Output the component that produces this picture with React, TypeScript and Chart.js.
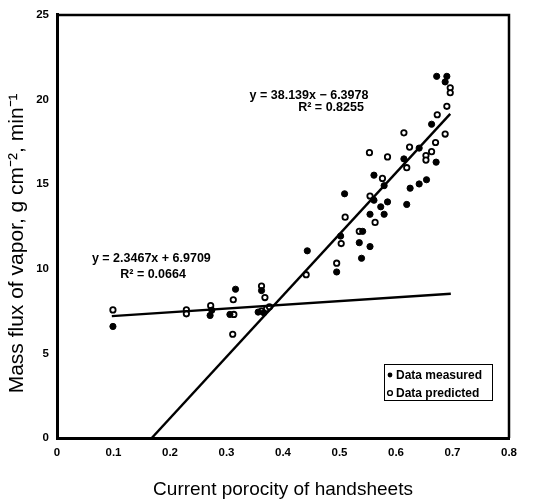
import React, { useEffect, useRef } from "react";
import { Chart, registerables } from "chart.js";

Chart.register(...registerables);

// Data measured (filled markers)
const measuredX = [
  0.099, 0.274, 0.271, 0.316, 0.306, 0.362, 0.356, 0.366, 0.443, 0.495,
  0.502, 0.509, 0.541, 0.535, 0.554, 0.539, 0.554, 0.561, 0.561, 0.579,
  0.573, 0.579, 0.585, 0.614, 0.625, 0.641, 0.654, 0.619, 0.641, 0.663,
  0.671, 0.672, 0.69, 0.687,
];
const measuredY = [
  6.59, 7.55, 7.24, 8.79, 7.3, 8.71, 7.44, 7.4, 11.06, 9.81,
  11.93, 14.43, 12.21, 11.54, 11.31, 10.62, 13.22, 14.05, 15.53, 14.91,
  13.66, 13.22, 13.95, 16.49, 14.76, 15.01, 15.26, 13.8, 17.13, 18.54,
  16.3, 21.37, 21.37, 21.04,
];

// Data predicted (open markers)
const predictedX = [
  0.099, 0.229, 0.229, 0.272, 0.312, 0.313, 0.311, 0.362, 0.368, 0.362,
  0.371, 0.376, 0.441, 0.495, 0.503, 0.51, 0.535, 0.563, 0.554, 0.553,
  0.585, 0.576, 0.619, 0.614, 0.624, 0.653, 0.653, 0.663, 0.67, 0.687,
  0.673, 0.69, 0.696, 0.696,
];
const predictedY = [
  7.57, 7.57, 7.34, 7.82, 8.17, 7.3, 6.13, 8.98, 8.3, 7.5,
  7.63, 7.75, 9.65, 10.33, 11.49, 13.05, 12.21, 12.74, 14.3, 16.86,
  16.61, 15.34, 15.97, 18.03, 17.19, 16.69, 16.42, 16.92, 17.46, 17.96,
  19.1, 19.6, 20.69, 20.4,
];

// Trend lines (endpoints as drawn)
const fitLowX = [0.097, 0.697];
const fitLowY = [7.2, 8.52];
const fitHighX = [0.1677, 0.696];
const fitHighY = [0, 19.15];

// Annotations: text and anchor (data coords)
const eqHighText = ["y = 38.139x \u2212 6.3978", "R\u00B2 = 0.8255"];
const eqHighX = [0.446, 0.485];
const eqHighY = [20.23, 19.54];
const eqLowText = ["y = 2.3467x + 6.9709", "R\u00B2 = 0.0664"];
const eqLowX = [0.167, 0.17];
const eqLowY = [10.58, 9.65];

const legendLabels = ["Data measured", "Data predicted"];

const xTicks = [0, 0.1, 0.2, 0.3, 0.4, 0.5, 0.6, 0.7, 0.8];
const yTicks = [0, 5, 10, 15, 20, 25];

const xTitle = "Current porocity of handsheets";
const yTitle = "Mass flux of vapor, g cm\u207B\u00B2, min\u207B\u00B9";

const FONT = "'Liberation Sans', Arial, sans-serif";

const toPts = (xs: number[], ys: number[]) => xs.map((x, i) => ({ x, y: ys[i] }));

const overlayPlugin = {
  id: "overlay",
  afterDraw(chart: any) {
    const { ctx, chartArea, scales } = chart;
    const xs = scales.x;
    const ys = scales.y;
    ctx.save();
    // top and right frame
    ctx.strokeStyle = "#000";
    ctx.lineWidth = 2.5;
    ctx.beginPath();
    ctx.moveTo(chartArea.left, chartArea.top);
    ctx.lineTo(chartArea.right, chartArea.top);
    ctx.lineTo(chartArea.right, chartArea.bottom);
    ctx.stroke();

    // y axis title (rotated)
    ctx.save();
    ctx.translate(17, chartArea.top + (chartArea.bottom - chartArea.top) * 0.54);
    ctx.rotate(-Math.PI / 2);
    ctx.fillStyle = "#000";
    ctx.font = `21px ${FONT}`;
    ctx.textAlign = "center";
    ctx.textBaseline = "middle";
    ctx.fillText(yTitle, 0, 0);
    ctx.restore();

    // equations
    ctx.fillStyle = "#000";
    ctx.font = `bold 12.5px ${FONT}`;
    ctx.textAlign = "center";
    ctx.textBaseline = "middle";
    eqHighText.forEach((t, i) => {
      ctx.fillText(t, xs.getPixelForValue(eqHighX[i]), ys.getPixelForValue(eqHighY[i]));
    });
    eqLowText.forEach((t, i) => {
      ctx.fillText(t, xs.getPixelForValue(eqLowX[i]), ys.getPixelForValue(eqLowY[i]));
    });

    // legend box
    const bw = 108;
    const bh = 36;
    const bx = chartArea.right - 17 - bw;
    const by = chartArea.bottom - 38 - bh;
    ctx.fillStyle = "#fff";
    ctx.fillRect(bx, by, bw, bh);
    ctx.strokeStyle = "#000";
    ctx.lineWidth = 1;
    ctx.strokeRect(bx + 0.5, by + 0.5, bw, bh);
    ctx.font = `bold 12px ${FONT}`;
    ctx.textAlign = "left";
    legendLabels.forEach((lab, i) => {
      const cy = by + 11 + i * 18;
      ctx.beginPath();
      ctx.arc(bx + 6, cy, 2.4, 0, Math.PI * 2);
      if (i === 0) {
        ctx.fillStyle = "#000";
        ctx.fill();
      } else {
        ctx.fillStyle = "#fff";
        ctx.fill();
        ctx.lineWidth = 1.4;
        ctx.stroke();
      }
      ctx.fillStyle = "#000";
      ctx.fillText(lab, bx + 12, cy + 0.5);
    });
    ctx.restore();
  },
};

export default function App() {
  const ref = useRef<HTMLCanvasElement | null>(null);

  useEffect(() => {
    document.body.style.margin = "0";
    if (!ref.current) return;
    const chart = new Chart(ref.current, {
      type: "scatter",
      data: {
        datasets: [
          {
            label: "fitLow",
            data: toPts(fitLowX, fitLowY),
            showLine: true,
            borderColor: "#000",
            borderWidth: 2.4,
            pointRadius: 0,
            fill: false,
          } as any,
          {
            label: "fitHigh",
            data: toPts(fitHighX, fitHighY),
            showLine: true,
            borderColor: "#000",
            borderWidth: 2.4,
            pointRadius: 0,
            fill: false,
          } as any,
          {
            label: "Data measured",
            data: toPts(measuredX, measuredY),
            backgroundColor: "#000",
            borderColor: "#000",
            borderWidth: 1,
            pointRadius: 3.1,
          },
          {
            label: "Data predicted",
            data: toPts(predictedX, predictedY),
            backgroundColor: "#fff",
            borderColor: "#000",
            borderWidth: 1.8,
            pointRadius: 2.7,
          },
        ],
      },
      options: {
        responsive: false,
        animation: false,
        layout: { padding: { top: 5, right: 29, left: 0, bottom: 0 } },
        plugins: {
          legend: { display: false },
          tooltip: { enabled: false },
        },
        scales: {
          x: {
            type: "linear",
            min: 0,
            max: 0.8,
            afterBuildTicks: (s: any) => {
              s.ticks = xTicks.map((v) => ({ value: v }));
            },
            afterFit: (s: any) => {
              s.height = 64;
            },
            grid: { display: false, drawTicks: false },
            border: { display: true, color: "#000", width: 3 },
            ticks: {
              color: "#000",
              padding: 8,
              font: { family: FONT, size: 11.5, weight: "bold" },
              callback: (v: any) => String(Math.round(Number(v) * 10) / 10),
            },
            title: {
              display: true,
              text: xTitle,
              color: "#000",
              font: { family: FONT, size: 19 },
              padding: { top: 0, bottom: 1 },
            },
          },
          y: {
            type: "linear",
            min: 0,
            max: 25,
            afterBuildTicks: (s: any) => {
              s.ticks = yTicks.map((v) => ({ value: v }));
            },
            afterFit: (s: any) => {
              s.width = 57;
            },
            grid: { display: false, drawTicks: false },
            border: { display: true, color: "#000", width: 3 },
            ticks: {
              color: "#000",
              padding: 8,
              font: { family: FONT, size: 11.5, weight: "bold" },
            },
            title: { display: false },
          },
        },
      } as any,
      plugins: [overlayPlugin],
    });
    return () => chart.destroy();
  }, []);

  return (
    <div style={{ width: 538, height: 502, background: "#fff" }}>
      <canvas ref={ref} width={538} height={502} />
    </div>
  );
}
